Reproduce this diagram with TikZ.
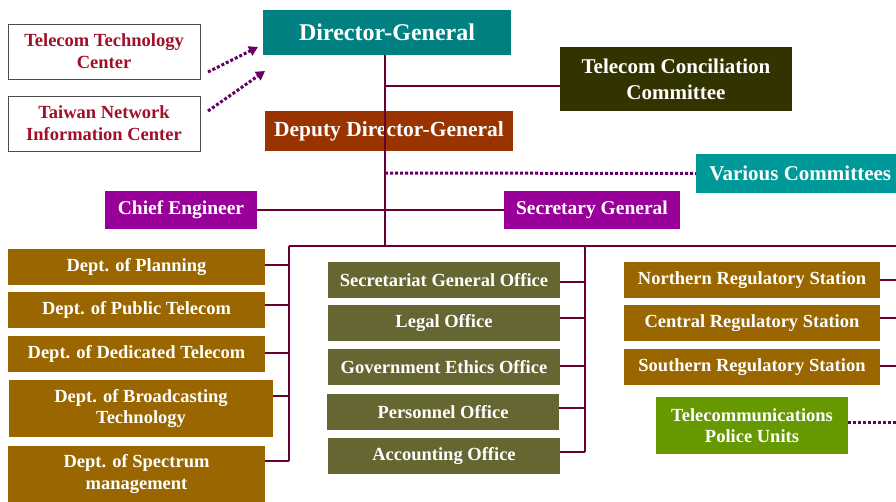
\documentclass[tikz,border=0pt]{standalone}
\usepackage{fontspec}
\setmainfont{Liberation Serif}
\usetikzlibrary{arrows.meta}
\definecolor{teal1}{HTML}{008080}
\definecolor{teal2}{HTML}{009999}
\definecolor{olive1}{HTML}{333300}
\definecolor{rust}{HTML}{993300}
\definecolor{purp}{HTML}{990099}
\definecolor{gold}{HTML}{996600}
\definecolor{khaki}{HTML}{666633}
\definecolor{lgreen}{HTML}{669900}
\definecolor{wire}{HTML}{660033}
\definecolor{dots}{HTML}{660066}
\definecolor{redtxt}{HTML}{A0102A}
\tikzset{
  box/.style={inner sep=0pt, text=white, align=center},
  wbox/.style={draw=black!70, line width=0.8pt, fill=white, text=redtxt, font=\bfseries\fontsize{18.5}{22}\selectfont, align=center, inner sep=0pt},
  link/.style={draw=wire, line width=2.6pt},
  dotlink/.style={draw=dots, line width=3pt, dash pattern=on 3pt off 2pt},
  dept/.style={box, fill=gold, minimum width=257, minimum height=36, font=\bfseries\fontsize{18.5}{21.5}\selectfont},
  office/.style={box, fill=khaki, minimum width=232, minimum height=36, font=\bfseries\fontsize{18.5}{21.5}\selectfont},
  station/.style={box, fill=gold, minimum width=256, minimum height=36, font=\bfseries\fontsize{18.5}{21.5}\selectfont},
}
\begin{document}
\begin{tikzpicture}[x=1pt,y=-1pt]
\useasboundingbox (0,0) rectangle (896,501);
% white boxes
\node[wbox, minimum width=192, minimum height=55] (ttc) at (104,51.5) {Telecom Technology\\Center};
\node[wbox, minimum width=192, minimum height=55] (twnic) at (104,123.5) {Taiwan Network\\Information Center};
% main boxes
\node[box, fill=teal1, minimum width=248, minimum height=45, font=\bfseries\fontsize{24}{26}\selectfont] (dg) at (387,32.5) {Director-General};
\node[box, fill=olive1, minimum width=232, minimum height=64, font=\bfseries\fontsize{21}{26}\selectfont] (tcc) at (676,79) {Telecom Conciliation\\Committee};
\node[box, fill=rust, minimum width=248, minimum height=40, font=\bfseries\fontsize{21.5}{24}\selectfont] (ddg) at (389,131) {Deputy Director-General};
\node[box, fill=teal2, minimum width=200, minimum height=39, font=\bfseries\fontsize{21}{24}\selectfont, anchor=west] (vc) at (696,173.5) {\hspace*{8pt}Various Committees};
\node[box, fill=purp, minimum width=152, minimum height=38, font=\bfseries\fontsize{19.5}{22}\selectfont] (ce) at (181,210) {Chief Engineer};
\node[box, fill=purp, minimum width=176, minimum height=38, font=\bfseries\fontsize{19.5}{22}\selectfont] (sg) at (592,210) {Secretary General};
% departments
\node[dept] (d1) at (136.5,267) {Dept. of Planning};
\node[dept] (d2) at (136.5,310) {Dept. of Public Telecom};
\node[dept] (d3) at (136.5,354) {Dept. of Dedicated Telecom};
\node[dept, minimum width=264, minimum height=57] (d4) at (141,408.5) {Dept. of Broadcasting\\Technology};
\node[dept, minimum height=56] (d5) at (136.5,474) {Dept. of Spectrum\\management};
% offices
\node[office] (o1) at (444,280) {Secretariat General Office};
\node[office] (o2) at (444,323) {Legal Office};
\node[office] (o3) at (444,367) {Government Ethics Office};
\node[office] (o4) at (443,412) {Personnel Office};
\node[office] (o5) at (444,456) {Accounting Office};
% stations
\node[station] (s1) at (752,280) {Northern Regulatory Station};
\node[station] (s2) at (752,323) {Central Regulatory Station};
\node[station] (s3) at (752,367) {Southern Regulatory Station};
\node[box, fill=lgreen, minimum width=192, minimum height=57, font=\bfseries\fontsize{18.5}{21.5}\selectfont] (pu) at (752,425.5) {Telecommunications\\Police Units};
% coordinates
\coordinate (top) at (385,55);
\coordinate (bus) at (385,246);
\coordinate (busL) at (289,246);
\coordinate (busR) at (896,246);
\coordinate (edge1) at (896,280);
\coordinate (edge2) at (896,318);
\coordinate (edge3) at (896,366);
\coordinate (edge4) at (896,422);
\coordinate (a1s) at (208,72);
\coordinate (a1e) at (258,47);
\coordinate (a2s) at (208,111);
\coordinate (a2e) at (265,71);
% connectors
\draw[link] (top) -- (bus);
\draw[link] (385,86) -- (tcc.west |- 0,86);
\draw[link] (ce.east) -- (sg.west);
\draw[link] (busL) -- (busR);
\draw[link] (busL) -- (289,461);
\draw[link] (d1.east |- 0,265) -- (289,265);
\draw[link] (d2.east |- 0,305) -- (289,305);
\draw[link] (d3.east |- 0,353) -- (289,353);
\draw[link] (d4.east |- 0,396) -- (289,396);
\draw[link] (d5.east |- 0,461) -- (289,461);
\draw[link] (585,246) -- (585,452);
\draw[link] (o1.east |- 0,282) -- (585,282);
\draw[link] (o2.east |- 0,318) -- (585,318);
\draw[link] (o3.east |- 0,366) -- (585,366);
\draw[link] (o4.east |- 0,408) -- (585,408);
\draw[link] (o5.east |- 0,452) -- (585,452);
\draw[link] (s1.east |- edge1) -- (edge1);
\draw[link] (s2.east |- edge2) -- (edge2);
\draw[link] (s3.east |- edge3) -- (edge3);
\draw[dotlink] (385,173) -- (vc.west);
\draw[dotlink] (pu.east |- edge4) -- (edge4);
\draw[dotlink, -{Triangle[length=9pt,width=10pt]}] (a1s) -- (a1e);
\draw[dotlink, -{Triangle[length=9pt,width=10pt]}] (a2s) -- (a2e);
\end{tikzpicture}
\end{document}
